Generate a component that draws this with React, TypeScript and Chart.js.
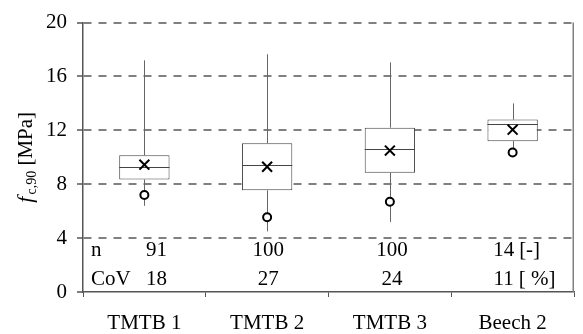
import React, { useEffect, useRef } from "react";
import { Chart, registerables } from "chart.js";

Chart.register(...registerables);

const categories = ["TMTB 1", "TMTB 2", "TMTB 3", "Beech 2"];
const whiskerMin = [6.4, 4.5, 5.2, 10.3];
const q1 = [8.35, 7.55, 8.85, 11.2];
const medians = [9.25, 9.45, 10.6, 12.5];
const q3 = [10.15, 11.05, 12.2, 12.8];
const whiskerMax = [17.2, 17.65, 17.05, 14.0];
const means = [9.45, 9.3, 10.5, 12.05];
const lowMarkers = [7.2, 5.55, 6.7, 10.35];
const nValues = ["91", "100", "100", "14"];
const covValues = ["18", "27", "24", "11"];
const nUnit = "[-]";
const covUnit = "[ %]";
const yTicks = [0, 4, 8, 12, 16, 20];

const FONT = "'Liberation Serif', 'Times New Roman', serif";

const boxPlugin = {
  id: "boxExtras",
  beforeDatasetsDraw(chart: any) {
    const { ctx, scales } = chart;
    const x = scales.x;
    const y = scales.y;
    ctx.save();
    ctx.strokeStyle = "#666";
    ctx.lineWidth = 1;
    categories.forEach((_, i) => {
      const cx = Math.round(x.getPixelForValue(i)) + 0.5;
      ctx.beginPath();
      ctx.moveTo(cx, y.getPixelForValue(whiskerMax[i]));
      ctx.lineTo(cx, y.getPixelForValue(q3[i]));
      ctx.moveTo(cx, y.getPixelForValue(q1[i]));
      ctx.lineTo(cx, y.getPixelForValue(whiskerMin[i]));
      ctx.stroke();
    });
    ctx.restore();
  },
  afterDatasetDraw(chart: any, args: any) {
    if (args.index !== 0) return;
    const { ctx, scales } = chart;
    const y = scales.y;
    const meta = chart.getDatasetMeta(0);
    ctx.save();
    ctx.strokeStyle = "#444";
    ctx.lineWidth = 1;
    meta.data.forEach((bar: any, i: number) => {
      const half = bar.width / 2;
      const py = Math.round(y.getPixelForValue(medians[i])) + 0.5;
      ctx.beginPath();
      ctx.moveTo(bar.x - half, py);
      ctx.lineTo(bar.x + half, py);
      ctx.stroke();
    });
    ctx.restore();
  },
  afterDraw(chart: any) {
    const { ctx, scales, chartArea } = chart;
    const x = scales.x;
    ctx.save();
    // right border
    ctx.strokeStyle = "#808080";
    ctx.lineWidth = 1.5;
    ctx.beginPath();
    ctx.moveTo(chartArea.right - 0.75, chartArea.top);
    ctx.lineTo(chartArea.right - 0.75, chartArea.bottom);
    ctx.stroke();

    // n / CoV rows
    ctx.fillStyle = "#000";
    ctx.font = `21px ${FONT}`;
    ctx.textBaseline = "middle";
    const nY = 250;
    const cY = 279;
    ctx.textAlign = "left";
    ctx.fillText("n", chartArea.left + 8, nY);
    ctx.fillText("CoV", chartArea.left + 8, cY);
    const offsets = [12, 1, 2, -9];
    ctx.textAlign = "center";
    categories.forEach((_, i) => {
      const cx = x.getPixelForValue(i) + offsets[i];
      ctx.fillText(nValues[i], cx, nY);
      ctx.fillText(covValues[i], cx, cY);
    });
    const lastX = x.getPixelForValue(categories.length - 1) + offsets[categories.length - 1];
    ctx.textAlign = "left";
    const nw = ctx.measureText(nValues[nValues.length - 1]).width;
    const cw = ctx.measureText(covValues[covValues.length - 1]).width;
    ctx.fillText(nUnit, lastX + nw / 2 + 5, nY);
    ctx.fillText(covUnit, lastX + cw / 2 + 5, cY);

    // y axis title: f_{c,90} [MPa]
    const cy = (chartArea.top + chartArea.bottom) / 2;
    ctx.translate(25, cy);
    ctx.rotate(-Math.PI / 2);
    ctx.textAlign = "left";
    ctx.textBaseline = "alphabetic";
    const fFont = `italic 22px ${FONT}`;
    const subFont = `14px ${FONT}`;
    const mFont = `21px ${FONT}`;
    ctx.font = fFont;
    const w1 = ctx.measureText("f").width;
    ctx.font = subFont;
    const w2 = ctx.measureText("c,90").width;
    ctx.font = mFont;
    const w3 = ctx.measureText(" [MPa]").width;
    const total = w1 + 2 + w2 + w3;
    let px = -total / 2;
    const base = 7;
    ctx.font = fFont;
    ctx.fillText("f", px, base);
    px += w1 + 2;
    ctx.font = subFont;
    ctx.fillText("c,90", px, base + 4);
    px += w2;
    ctx.font = mFont;
    ctx.fillText(" [MPa]", px, base);
    ctx.restore();
  },
};

export default function App() {
  const ref = useRef<HTMLCanvasElement | null>(null);
  useEffect(() => {
    if (!ref.current) return;
    const chart = new Chart(ref.current, {
      type: "bar",
      data: {
        labels: categories,
        datasets: [
          {
            type: "bar",
            data: categories.map((_, i) => [q1[i], q3[i]]) as any,
            backgroundColor: "#fff",
            borderColor: "#444",
            borderWidth: 1,
            borderSkipped: false,
            barPercentage: 0.41,
            categoryPercentage: 1,
            order: 3,
          } as any,
          {
            type: "line",
            data: means,
            showLine: false,
            pointStyle: "crossRot",
            pointRadius: 7,
            pointBorderWidth: 2,
            pointBorderColor: "#000",
            pointBackgroundColor: "#000",
            order: 1,
          } as any,
          {
            type: "line",
            data: lowMarkers,
            showLine: false,
            pointStyle: "circle",
            pointRadius: 4,
            pointBorderWidth: 2,
            pointBorderColor: "#000",
            pointBackgroundColor: "#fff",
            order: 2,
          } as any,
        ],
      },
      options: {
        animation: false,
        responsive: false,
        events: [],
        layout: { padding: { top: 20, right: 1, left: 0, bottom: 0 } },
        plugins: { legend: { display: false }, tooltip: { enabled: false } },
        scales: {
          x: {
            offset: true,
            grid: {
              offset: true,
              drawOnChartArea: false,
              drawTicks: true,
              tickLength: 5,
              color: "#555",
            },
            border: { display: true, color: "#555", width: 1.5 },
            ticks: {
              color: "#000",
              font: { family: FONT, size: 21 },
              padding: 14,
            },
            afterFit(scale: any) {
              scale.height = 42;
            },
          },
          y: {
            min: 0,
            max: 20,
            afterBuildTicks(scale: any) {
              scale.ticks = yTicks.map((v) => ({ value: v }));
            },
            grid: {
              color: (c: any) => (c.tick && c.tick.value === 0 ? "rgba(0,0,0,0)" : "#808080"),
              tickLength: 6,
              tickColor: "#808080",
              lineWidth: 2,
            } as any,
            border: { display: true, color: "#555", width: 1.5, dash: [8, 7] },
            ticks: {
              color: "#000",
              font: { family: FONT, size: 21 },
              padding: 10,
            },
            afterFit(scale: any) {
              scale.width = 83;
            },
          },
        },
      } as any,
      plugins: [boxPlugin],
    });
    return () => chart.destroy();
  }, []);
  return (
    <div style={{ position: "absolute", left: 0, top: 0, width: 583, height: 334, background: "#fff" }}>
      <canvas ref={ref} width={583} height={334} />
    </div>
  );
}
